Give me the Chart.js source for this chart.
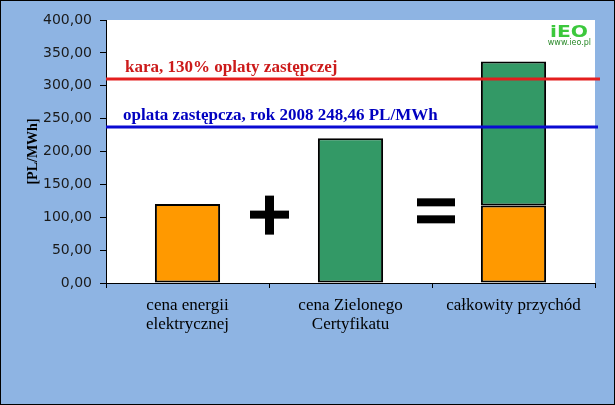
<!DOCTYPE html>
<html lang="pl">
<head>
  <meta charset="UTF-8">
  <title>Przychód - zielone certyfikaty</title>
  <script src="https://cdn.jsdelivr.net/npm/chart.js"></script>
  <style>
    body {
      margin: 0;
      background: #ffffff;
    }

    .frame {
      width: 613px;
      height: 403px;
      border: 1px solid #000;
      background: #8eb4e3;
    }

    canvas {
      display: block;
    }
  </style>
</head>
<body>

  <div class="frame">
    <canvas id="barChart" width="613" height="403"></canvas>
  </div>

  <script>
    // values
    const categories = [["cena energii", "elektrycznej"], ["cena Zielonego", "Certyfikatu"], "całkowity przychód"];
    const energyPrice = [120, null, 118];
    const greenCertPrice = [null, 220, 219];
    const refValues = [310, 238];
    const refLabels = ["kara, 130% oplaty zastępczej", "oplata zastępcza, rok 2008 248,46 PL/MWh"];
    const refColors = ["#e41e1e", "#0a0ad2"];
    const refTextColors = ["#cc1a1a", "#0000c0"];

    const extras = {
      id: 'extras',
      beforeDraw(chart) {
        const { ctx, chartArea: a } = chart;
        ctx.save();
        ctx.fillStyle = '#ffffff';
        ctx.fillRect(a.left, a.top, a.right - a.left, a.bottom - a.top);
        ctx.restore();
      },
      afterDatasetsDraw(chart) {
        const { ctx, chartArea: a, scales: { x, y } } = chart;
        ctx.save();

        // reference lines with labels
        refValues.forEach((v, i) => {
          const py = Math.round(y.getPixelForValue(v));
          ctx.strokeStyle = refColors[i];
          ctx.lineWidth = 3;
          ctx.beginPath();
          ctx.moveTo(a.left, py);
          ctx.lineTo(a.right + 5 - i * 2, py);
          ctx.stroke();
          ctx.fillStyle = refTextColors[i];
          ctx.font = 'bold 17px "Liberation Serif", serif';
          ctx.textAlign = 'left';
          ctx.textBaseline = 'alphabetic';
          ctx.fillText(refLabels[i], a.left + 19 - i * 2, py - 7);
        });

        // "+" and "=" between the bars
        ctx.fillStyle = '#000';
        const plusX = (x.getPixelForValue(0) + x.getPixelForValue(1)) / 2;
        const plusY = y.getPixelForValue(104);
        ctx.fillRect(plusX - 19, plusY - 4, 39, 8);
        ctx.fillRect(plusX - 4, plusY - 19, 9, 39);

        const eqX = (x.getPixelForValue(1) + x.getPixelForValue(2)) / 2 + 4;
        const eqY = y.getPixelForValue(109);
        ctx.fillRect(eqX - 19, eqY - 13, 38, 8);
        ctx.fillRect(eqX - 19, eqY + 4, 38, 8);

        // logo
        ctx.textBaseline = 'alphabetic';
        ctx.save();
        ctx.translate(a.right - 7, a.top + 17);
        ctx.scale(1.35, 1);
        ctx.textAlign = 'right';
        ctx.font = 'bold 15px "DejaVu Sans", sans-serif';
        ctx.fillStyle = '#3cc83c';
        ctx.fillText('iEO', 0, 0);
        ctx.restore();
        ctx.textAlign = 'right';
        ctx.font = '8px "DejaVu Sans", sans-serif';
        ctx.fillStyle = '#2a8a2a';
        ctx.fillText('www.ieo.pl', a.right - 4, a.top + 25);

        ctx.restore();
      }
    };

    new Chart(document.getElementById('barChart'), {
      type: 'bar',
      data: {
        labels: categories,
        datasets: [{
          label: 'cena energii elektrycznej',
          data: energyPrice,
          backgroundColor: '#ff9900',
          borderColor: '#000',
          borderWidth: 2,
          borderSkipped: false
        }, {
          label: 'cena Zielonego Certyfikatu',
          data: greenCertPrice,
          backgroundColor: '#339966',
          borderColor: '#000',
          borderWidth: 2,
          borderSkipped: false
        }]
      },
      options: {
        responsive: false,
        animation: false,
        devicePixelRatio: 1,
        barPercentage: 0.4,
        categoryPercentage: 1,
        layout: { padding: { left: 0, top: 19, right: 19, bottom: 0 } },
        plugins: {
          legend: { display: false },
          tooltip: { enabled: false }
        },
        scales: {
          x: {
            stacked: true,
            afterFit(scale) { scale.height = 121; },
            grid: { drawOnChartArea: false, drawTicks: true, tickLength: 5, color: '#000' },
            border: { color: '#000', width: 1 },
            ticks: {
              color: '#000',
              padding: 8,
              maxRotation: 0,
              font: { family: '"Liberation Serif", serif', size: 17, lineHeight: 1.1 }
            }
          },
          y: {
            stacked: true,
            min: 0,
            max: 400,
            afterFit(scale) { scale.width = 105; },
            grid: { drawOnChartArea: false, drawTicks: true, tickLength: 6, color: '#000' },
            border: { color: '#000', width: 1 },
            ticks: {
              stepSize: 50,
              color: '#1a1a1a',
              padding: 8,
              font: { family: '"DejaVu Sans", sans-serif', size: 14 },
              callback: v => v.toFixed(2).replace('.', ',')
            },
            title: {
              display: true,
              text: '[PL/MWh]',
              color: '#000',
              padding: { top: 24 },
              font: { family: '"Liberation Serif", serif', size: 14, weight: 'bold' }
            }
          }
        }
      },
      plugins: [extras]
    });
  </script>

</body>
</html>
